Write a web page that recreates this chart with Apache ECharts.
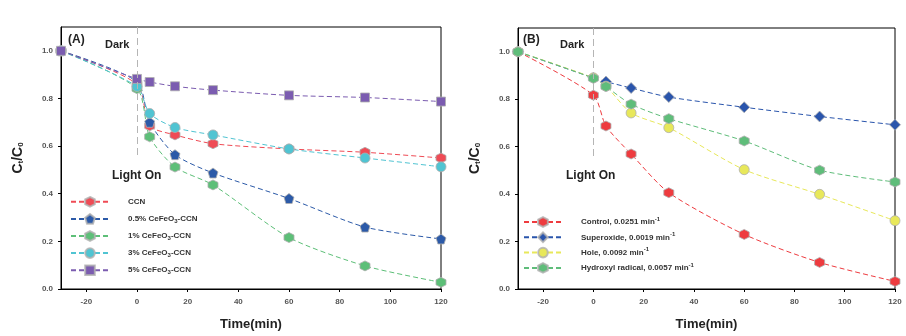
<!DOCTYPE html>
<html>
<head>
<meta charset="utf-8">
<script src="https://cdn.jsdelivr.net/npm/echarts@6/dist/echarts.min.js"></script>
<style>
  html, body { margin: 0; padding: 0; background: #fff; }
  #chart { width: 906px; height: 336px; }
</style>
</head>
<body>
<div id="chart"></div>
<script>
// time points (min)
var times = [-30, 0, 5, 15, 30, 60, 90, 120];
var xTicks = [-20, 0, 20, 40, 60, 80, 100, 120];
var yTicks = [0, 0.2, 0.4, 0.6, 0.8, 1.0];

// panel A
var namesA = ['CCN', '0.5% CeFeO{sub|3}-CCN', '1% CeFeO{sub|3}-CCN', '3% CeFeO{sub|3}-CCN', '5% CeFeO{sub|3}-CCN'];
var ccn    = [1.0, 0.86, 0.685, 0.647, 0.610, 0.588, 0.574, 0.550];
var cf05   = [1.0, 0.87, 0.700, 0.564, 0.487, 0.380, 0.260, 0.210];
var cf1    = [1.0, 0.841, 0.639, 0.512, 0.437, 0.216, 0.097, 0.028];
var cf3    = [1.0, 0.85, 0.737, 0.678, 0.647, 0.588, 0.550, 0.513];
var cf5    = [1.0, 0.882, 0.869, 0.851, 0.835, 0.813, 0.804, 0.787];

// panel B
var namesB = ['Control, 0.0251 min{sup|-1}', 'Superoxide, 0.0019 min{sup|-1}', 'Hole, 0.0092 min{sup|-1}', 'Hydroxyl radical, 0.0057 min{sup|-1}'];
var control    = [1.0, 0.817, 0.687, 0.569, 0.406, 0.230, 0.112, 0.032];
var superoxide = [1.0, 0.89, 0.874, 0.847, 0.809, 0.766, 0.727, 0.692];
var hole       = [1.0, 0.89, 0.855, 0.742, 0.680, 0.503, 0.399, 0.288];
var hydroxyl   = [1.0, 0.888, 0.853, 0.779, 0.718, 0.624, 0.501, 0.451];

var font = 'Arial, "Liberation Sans", sans-serif';

function pairs(vals) {
  return times.map(function (t, i) { return [t, vals[i]]; });
}

function lineSeries(name, vals, color, symbol, idx) {
  return {
    name: name,
    type: 'line',
    xAxisIndex: idx,
    yAxisIndex: idx,
    data: pairs(vals),
    smooth: 0.25,
    symbol: symbol,
    symbolSize: 10,
    lineStyle: { color: color, width: 1, type: [5, 3] },
    itemStyle: { color: color, borderColor: 'rgba(175,175,175,0.8)', borderWidth: 1 },
    z: 3
  };
}

function darkLine() {
  return {
    silent: true,
    symbol: 'none',
    label: { show: false },
    lineStyle: { color: '#b5b5b5', type: [7, 4], width: 1 },
    data: [[{ coord: [0, 1.1] }, { coord: [0, 0.55] }]]
  };
}

function xAxisOf(idx) {
  return {
    type: 'value', gridIndex: idx, min: -30, max: 120,
    name: 'Time(min)', nameLocation: 'middle', nameGap: 29,
    nameTextStyle: { fontFamily: font, fontSize: 13, fontWeight: 'bold', color: '#222' },
    axisLine: { onZero: false, lineStyle: { color: '#000' } },
    axisTick: { length: 3, customValues: xTicks, lineStyle: { color: '#000' } },
    axisLabel: { customValues: xTicks, fontFamily: font, fontSize: 8, fontWeight: 'bold', color: '#555', margin: 9 },
    splitLine: { show: false }
  };
}

function yAxisOf(idx) {
  return {
    type: 'value', gridIndex: idx, min: 0, max: 1.1,
    name: 'C{sub|t}/C{sub|0}', nameLocation: 'middle', nameRotate: 90, nameGap: 36,
    nameTextStyle: {
      fontFamily: font, fontSize: 14, fontWeight: 'bold', color: '#222',
      rich: { sub: { fontSize: 8, fontWeight: 'bold', verticalAlign: 'bottom', padding: [6, 0, 0, 0] } }
    },
    axisLine: { onZero: false, lineStyle: { color: '#000' } },
    axisTick: { length: 3, customValues: yTicks, lineStyle: { color: '#000' } },
    axisLabel: {
      customValues: yTicks, fontFamily: font, fontSize: 8, fontWeight: 'bold', color: '#555', margin: 8,
      formatter: function (v) { return v.toFixed(1); }
    },
    splitLine: { show: false }
  };
}

function legendOf(names, left, top, gap) {
  return {
    data: names, orient: 'vertical', left: left, top: top, padding: 0,
    itemWidth: 38, itemHeight: 12, itemGap: gap,
    textStyle: {
      fontFamily: font, fontSize: 8, color: '#333', fontWeight: 'bold', padding: [0, 0, 0, 14],
      rich: {
        sub: { fontSize: 6, fontWeight: 'bold', color: '#333', padding: [5, 0, 0, 0] },
        sup: { fontSize: 6, fontWeight: 'bold', color: '#333', padding: [0, 0, 6, 0] }
      }
    }
  };
}

var hexagon = 'path://M0,-10 L8.7,-5 L8.7,5 L0,10 L-8.7,5 L-8.7,-5 Z';
var pentagon = 'path://M0,-10 L9.5,-3.1 L5.9,8.1 L-5.9,8.1 L-9.5,-3.1 Z';

var seriesA = [
  lineSeries(namesA[0], ccn, '#ef4b55', hexagon, 0),
  lineSeries(namesA[1], cf05, '#2c5aa8', pentagon, 0),
  lineSeries(namesA[2], cf1, '#5dbf78', hexagon, 0),
  lineSeries(namesA[3], cf3, '#50c4d2', 'circle', 0),
  lineSeries(namesA[4], cf5, '#7b5cb0', 'rect', 0)
];
seriesA[4].symbolSize = 9;
seriesA[4].markLine = darkLine();

var seriesB = [
  lineSeries(namesB[0], control, '#ee3b3f', hexagon, 1),
  lineSeries(namesB[1], superoxide, '#2a55ac', 'diamond', 1),
  lineSeries(namesB[2], hole, '#e8e85a', 'circle', 1),
  lineSeries(namesB[3], hydroxyl, '#5fbd7a', hexagon, 1)
];
seriesB[1].symbolSize = 11;
seriesB[3].markLine = darkLine();

var chart = echarts.init(document.getElementById('chart'));

var option = {
  backgroundColor: '#fff',
  animation: false,
  grid: [
    { left: 61, top: 27, width: 380, height: 266, show: true, borderColor: '#000', borderWidth: 1 },
    { left: 518, top: 28, width: 377, height: 265, show: true, borderColor: '#000', borderWidth: 1 }
  ],
  xAxis: [xAxisOf(0), xAxisOf(1)],
  yAxis: [yAxisOf(0), yAxisOf(1)],
  legend: [
    legendOf(namesA, 70, 196, 5.5),
    legendOf(namesB, 523, 216, 3.5)
  ],
  graphic: [
    { type: 'text', left: 68, top: 34, style: { text: '(A)', font: 'bold 12px ' + font, fill: '#222' } },
    { type: 'text', left: 105, top: 39, style: { text: 'Dark', font: 'bold 11px ' + font, fill: '#222' } },
    { type: 'text', left: 112, top: 170, style: { text: 'Light On', font: 'bold 12px ' + font, fill: '#222' } },
    { type: 'text', left: 523, top: 34, style: { text: '(B)', font: 'bold 12px ' + font, fill: '#222' } },
    { type: 'text', left: 560, top: 39, style: { text: 'Dark', font: 'bold 11px ' + font, fill: '#222' } },
    { type: 'text', left: 566, top: 170, style: { text: 'Light On', font: 'bold 12px ' + font, fill: '#222' } }
  ],
  series: seriesA.concat(seriesB)
};

chart.setOption(option);
</script>
</body>
</html>
